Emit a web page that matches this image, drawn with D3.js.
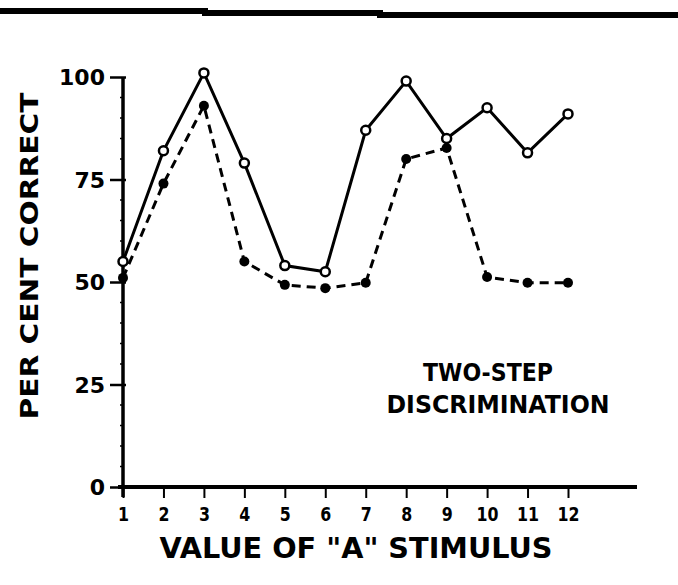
<!DOCTYPE html>
<html>
<head>
<meta charset="utf-8">
<script src="https://cdn.jsdelivr.net/npm/d3@7"></script>
<style>
html,body{margin:0;padding:0;background:#fff;}
svg{display:block;}
text{font-family:"DejaVu Sans","Liberation Sans",sans-serif;font-weight:bold;fill:#000;}
</style>
</head>
<body>
<svg id="chart" width="678" height="585"></svg>
<script>
// ---- data ----
const stimulus = [1,2,3,4,5,6,7,8,9,10,11,12];
const solidSeries = [55,82,101,79,54,52.5,87,99,85,92.5,81.5,91];      // open circles, solid line
const dashedSeries = [51,74,93,55,49.3,48.5,49.8,80,82.7,51.2,49.8,49.8]; // filled circles, dashed line
const yTickValues = [0,25,50,75,100];
const xTickLabels = ["1","2","3","4","5","6","7","8","9","10","11","12"];
const yTitle = "PER CENT CORRECT";
const xTitle = "VALUE OF \"A\" STIMULUS";
const noteLines = ["TWO-STEP","DISCRIMINATION"];

const svg = d3.select("#chart");

// top rule (scan border)
svg.append("path")
  .attr("d","M0,11 L205,11 L205,13 L380,13 L380,15 L678,15")
  .attr("fill","none").attr("stroke","#000").attr("stroke-width",6);

const x = d3.scaleLinear().domain([1,12]).range([123,568]);
const y = d3.scaleLinear().domain([0,100]).range([487,77]);

// y axis
const yAxis = d3.axisLeft(y).tickValues(yTickValues).tickSize(13).tickSizeOuter(0).tickPadding(5);
const gy = svg.append("g").attr("transform","translate(123,0)").call(yAxis);
gy.select(".domain").remove();
gy.selectAll(".tick line").attr("stroke","#000").attr("stroke-width",2.5).attr("x2",-13).attr("x1",3);
gy.selectAll(".tick text").attr("font-size",22).attr("dy","0.36em")
  .style("font-family","DejaVu Sans").style("font-weight","bold");
svg.append("line").attr("x1",123).attr("x2",123).attr("y1",y(100)).attr("y2",497)
  .attr("stroke","#000").attr("stroke-width",3.5);
// minor ticks
svg.append("g").selectAll("line").data(d3.range(5,100,5).filter(v=>v%25!==0)).join("line")
  .attr("x1",120).attr("x2",123).attr("y1",d=>y(d)).attr("y2",d=>y(d))
  .attr("stroke","#000").attr("stroke-width",1.5);

// x axis
svg.append("line").attr("x1",118).attr("x2",637).attr("y1",y(0)).attr("y2",y(0))
  .attr("stroke","#000").attr("stroke-width",4);
const xAxis = d3.axisBottom(x).tickValues(stimulus).tickFormat((d,i)=>xTickLabels[i]).tickSize(11).tickPadding(9);
const gx = svg.append("g").attr("transform",`translate(0,${y(0)})`).call(xAxis);
gx.select(".domain").remove();
gx.selectAll(".tick line").attr("stroke","#000").attr("stroke-width",2);
gx.selectAll(".tick text").attr("font-size",20)
  .attr("textLength",d=>String(d).length*11).attr("lengthAdjust","spacingAndGlyphs")
  .style("font-family","DejaVu Sans").style("font-weight","bold");

// lines
const line = (arr)=>d3.line().x((d,i)=>x(stimulus[i])).y(d=>y(d))(arr);
svg.append("path").attr("d",line(dashedSeries)).attr("fill","none")
  .attr("stroke","#000").attr("stroke-width",3).attr("stroke-dasharray","9,6");
svg.append("path").attr("d",line(solidSeries)).attr("fill","none")
  .attr("stroke","#000").attr("stroke-width",3);

// markers
svg.append("g").selectAll("circle").data(dashedSeries).join("circle")
  .attr("cx",(d,i)=>x(stimulus[i])).attr("cy",d=>y(d)).attr("r",5).attr("fill","#000");
svg.append("g").selectAll("circle").data(solidSeries).join("circle")
  .attr("cx",(d,i)=>x(stimulus[i])).attr("cy",d=>y(d)).attr("r",4.5)
  .attr("fill","#fff").attr("stroke","#000").attr("stroke-width",2.5);

// titles
svg.append("text").attr("transform","translate(38,256) rotate(-90)")
  .attr("text-anchor","middle").attr("font-size",25)
  .attr("textLength",327).attr("lengthAdjust","spacingAndGlyphs").text(yTitle);
svg.append("text").attr("x",356).attr("y",558).attr("text-anchor","middle")
  .attr("font-size",28).attr("textLength",393).attr("lengthAdjust","spacingAndGlyphs").text(xTitle);

// annotation
svg.append("text").attr("x",488).attr("y",381).attr("text-anchor","middle")
  .attr("font-size",25).attr("textLength",130).attr("lengthAdjust","spacingAndGlyphs").text(noteLines[0]);
svg.append("text").attr("x",498).attr("y",413).attr("text-anchor","middle")
  .attr("font-size",25).attr("textLength",223).attr("lengthAdjust","spacingAndGlyphs").text(noteLines[1]);
</script>
</body>
</html>
